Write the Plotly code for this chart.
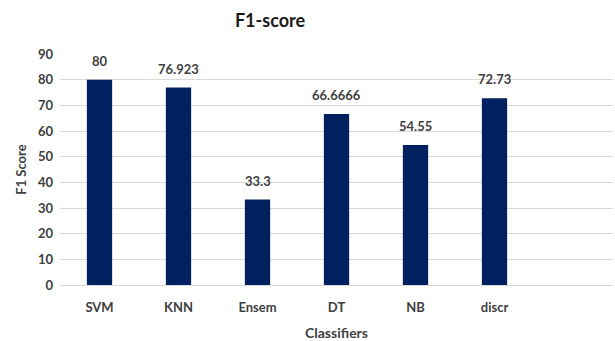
import plotly.graph_objects as go

classifiers = ["SVM", "KNN", "Ensem", "DT", "NB", "discr"]
f1_scores = [80, 76.923, 33.3, 66.6666, 54.55, 72.73]
value_labels = ["80", "76.923", "33.3", "66.6666", "54.55", "72.73"]
y_ticks = [0, 10, 20, 30, 40, 50, 60, 70, 80, 90]

font_family = "Lato, 'Open Sans', sans-serif"
text_color = "#404040"

fig = go.Figure(
    go.Bar(
        x=classifiers,
        y=f1_scores,
        marker=dict(color="#002060", line=dict(width=0)),
        width=0.32,
        hovertemplate="%{x}: %{y}<extra></extra>",
    )
)

# value labels placed above each bar, a little higher than plotly's default padding
for name, value, label in zip(classifiers, f1_scores, value_labels):
    fig.add_annotation(
        x=name,
        y=value,
        text=f"<b>{label}</b>",
        showarrow=False,
        yanchor="bottom",
        yshift=9,
        font=dict(family=font_family, size=13, color=text_color),
    )

fig.update_layout(
    width=615,
    height=341,
    margin=dict(l=60, r=2, t=54, b=53),
    paper_bgcolor="white",
    plot_bgcolor="white",
    showlegend=False,
    font=dict(family=font_family, color=text_color),
    title=dict(
        text="<b>F1-score</b>",
        x=270 / 615,
        xanchor="center",
        y=1 - 21 / 341,
        yanchor="middle",
        font=dict(family=font_family, size=18, color="#1a1a1a"),
    ),
)

fig.update_xaxes(
    range=[-0.5, 6.5],
    showgrid=False,
    showline=False,
    ticks="",
    ticklabelstandoff=13,
    tickfont=dict(family=font_family, size=13, color=text_color, weight="bold"),
    title=dict(
        text="<b>Classifiers</b>",
        font=dict(family=font_family, size=14, color=text_color),
        standoff=14,
    ),
)

fig.update_yaxes(
    range=[0, 90],
    tickvals=y_ticks,
    showgrid=True,
    gridcolor="#d9d9d9",
    gridwidth=1,
    zeroline=True,
    zerolinecolor="#d9d9d9",
    zerolinewidth=1,
    showline=False,
    ticks="",
    ticklabelstandoff=6,
    tickfont=dict(family=font_family, size=13, color=text_color, weight="bold"),
    title=dict(
        text="<b>F1 Score</b>",
        font=dict(family=font_family, size=13, color=text_color),
        standoff=8,
    ),
)

fig.write_html("out.html")
